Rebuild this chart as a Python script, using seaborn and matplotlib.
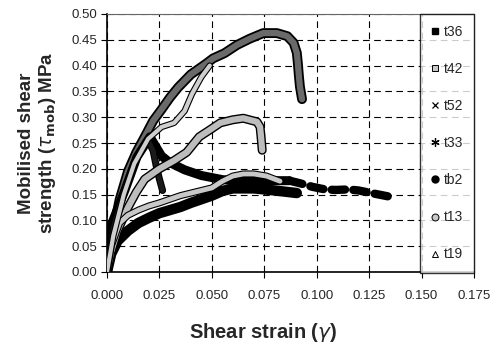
import matplotlib
matplotlib.use("Agg")
import matplotlib.pyplot as plt
import matplotlib.patheffects as pe
from matplotlib.lines import Line2D
import seaborn as sns

# ---------------- data ----------------
t13_x = [0.0, 0.003, 0.006, 0.010, 0.014, 0.018, 0.022, 0.026, 0.030, 0.034, 0.040, 0.047,
         0.0506, 0.056, 0.062, 0.068, 0.0745, 0.081, 0.086, 0.089, 0.0905, 0.091, 0.0915,
         0.092, 0.093]
t13_y = [0.0, 0.08, 0.14, 0.195, 0.232, 0.262, 0.293, 0.315, 0.338, 0.358, 0.383, 0.403,
         0.414, 0.424, 0.440, 0.452, 0.463, 0.463, 0.457, 0.444, 0.425, 0.405, 0.380,
         0.359, 0.335]

t33_x = [0.0, 0.003, 0.008, 0.013, 0.0196, 0.026, 0.032, 0.037, 0.0405, 0.045, 0.049]
t33_y = [0.0, 0.07, 0.15, 0.21, 0.258, 0.281, 0.289, 0.312, 0.345, 0.378, 0.400]

t42_x = [0.0, 0.002, 0.005, 0.010, 0.014, 0.018, 0.025, 0.032, 0.038, 0.044, 0.050,
         0.054, 0.060, 0.065, 0.0715, 0.073, 0.0735, 0.074]
t42_y = [0.0, 0.04, 0.08, 0.125, 0.155, 0.180, 0.200, 0.216, 0.232, 0.262, 0.278,
         0.289, 0.295, 0.298, 0.291, 0.281, 0.260, 0.236]

t52_x = [0.0, 0.002, 0.006, 0.010, 0.015, 0.020, 0.025, 0.030, 0.035, 0.040, 0.045,
         0.050, 0.055, 0.060, 0.065, 0.070, 0.076, 0.0825]
t52_y = [0.0, 0.05, 0.095, 0.110, 0.120, 0.128, 0.134, 0.141, 0.148, 0.153, 0.158,
         0.163, 0.176, 0.186, 0.190, 0.190, 0.186, 0.176]

t36_x = [0.0, 0.002, 0.005, 0.010, 0.015, 0.020, 0.025, 0.030, 0.035, 0.040, 0.045,
         0.050, 0.055, 0.060, 0.070, 0.080, 0.0905]
t36_y = [0.0, 0.035, 0.060, 0.080, 0.095, 0.105, 0.114, 0.120, 0.126, 0.134, 0.141,
         0.148, 0.157, 0.162, 0.162, 0.158, 0.153]

tb2_x = [0.0, 0.0024, 0.0086, 0.0143, 0.0205, 0.023, 0.026, 0.030, 0.037, 0.045,
         0.055, 0.065, 0.075, 0.087, 0.092, 0.098, 0.104, 0.109, 0.115, 0.120,
         0.126, 0.131, 0.136]
tb2_y = [0.0, 0.095, 0.159, 0.223, 0.262, 0.245, 0.225, 0.212, 0.198, 0.187,
         0.179, 0.176, 0.177, 0.177, 0.172, 0.165, 0.160, 0.159, 0.160, 0.158,
         0.153, 0.149, 0.145]
tb2_tail_start = 13  # index where the sparse (dashed-looking) part begins

t19_x = [0.0, 0.003, 0.008, 0.013, 0.0195, 0.022, 0.0235, 0.025, 0.0265]
t19_y = [0.0, 0.085, 0.155, 0.212, 0.256, 0.235, 0.205, 0.180, 0.158]

labels = ["t36", "t42", "t52", "t33", "tb2", "t13", "t19"]
x_ticks = [0.000, 0.025, 0.050, 0.075, 0.100, 0.125, 0.150, 0.175]
y_ticks = [0.00, 0.05, 0.10, 0.15, 0.20, 0.25, 0.30, 0.35, 0.40, 0.45, 0.50]

# ---------------- style ----------------
sns.set_theme(style="white")
plt.rcParams["font.family"] = ["Liberation Sans", "DejaVu Sans"]
plt.rcParams["mathtext.fontset"] = "dejavusans"

fig = plt.figure(figsize=(4.91, 3.47), dpi=100)
ax = fig.add_axes([107 / 491, 1 - 272 / 347, (474 - 107) / 491, (272 - 14) / 347])


def band(x, y, face, width, edge="black", ew=1.0, z=3, ls="-"):
    sns.lineplot(x=x, y=y, ax=ax, sort=False, estimator=None, color=face, lw=width,
                 linestyle=ls, solid_capstyle="round", dash_capstyle="round",
                 solid_joinstyle="round", zorder=z,
                 path_effects=[pe.Stroke(linewidth=width + 2 * ew, foreground=edge),
                               pe.Normal()])


band(t13_x, t13_y, "#6a6a6a", 4.5, ew=1.3, z=2.9)
band(t36_x, t36_y, "black", 5.5, z=3)
band(tb2_x[:tb2_tail_start + 1], tb2_y[:tb2_tail_start + 1], "black", 4.5, z=3.1)
sns.lineplot(x=tb2_x[tb2_tail_start:], y=tb2_y[tb2_tail_start:], ax=ax, sort=False,
             estimator=None, color="black", lw=6, linestyle=(0, (1.6, 1.0)),
             dash_capstyle="round", zorder=3.1)
band(t19_x, t19_y, "#1a1a1a", 3.5, ew=0.8, z=3.2)
band(t42_x, t42_y, "#bdbdbd", 4.5, ew=1.0, z=3.3)
band(t52_x, t52_y, "#c8c8c8", 3.5, ew=0.8, z=3.4)
band(t33_x, t33_y, "#cfcfcf", 3.0, ew=0.8, z=3.5)

# ---------------- axes ----------------
ax.set_xlim(0, 0.175)
ax.set_ylim(0, 0.50)
ax.set_xticks(x_ticks)
ax.set_yticks(y_ticks)
ax.set_xticklabels([f"{v:.3f}" for v in x_ticks], fontsize=9.5)
ax.set_yticklabels([f"{v:.2f}" for v in y_ticks], fontsize=9.5)
ax.grid(True, color="black", linestyle=(0, (6, 4)), linewidth=0.8)
ax.set_axisbelow(True)
ax.tick_params(axis="both", direction="out", length=4, width=0.8, color="black", pad=3,
               bottom=True, left=True)
ax.tick_params(axis="x", pad=9)
for side, sp in ax.spines.items():
    sp.set_visible(True)
    sp.set_color("black" if side in ("left", "bottom") else "#666666")
    sp.set_linewidth(1.2 if side in ("left", "bottom") else 0.8)

ax.set_xlabel(r"Shear strain ($\gamma$)", fontsize=14.5, fontweight="bold")
ax.xaxis.set_label_coords((263 - 107) / 367, -0.19)
ax.set_ylabel("Mobilised shear\n" + r"strength ($\tau_{\mathbf{mob}}$) MPa", fontsize=13.5,
              fontweight="bold", labelpad=10, linespacing=1.1)

# ---------------- legend ----------------
handles = [
    Line2D([], [], ls="none", marker="s", ms=5, mfc="black", mec="black"),
    Line2D([], [], ls="none", marker="s", ms=5, mfc="#c8c8c8", mec="black", mew=0.7),
    Line2D([], [], ls="none", marker="x", ms=5, mec="black", mew=0.9),
    Line2D([], [], ls="none", marker=(6, 2, 0), ms=6, mec="black", mew=0.9),
    Line2D([], [], ls="none", marker="o", ms=5, mfc="black", mec="black"),
    Line2D([], [], ls="none", marker="o", ms=5, mfc="#c8c8c8", mec="black", mew=0.7),
    Line2D([], [], ls="none", marker="^", ms=5, mfc="white", mec="black", mew=0.7),
]
leg = ax.legend(handles, labels, loc="upper right", bbox_to_anchor=(1.0, 1.0),
                borderaxespad=0, frameon=True, fancybox=False, edgecolor="black",
                fontsize=10, handlelength=0.6, handletextpad=0.3, labelspacing=1.66,
                borderpad=0.8)
leg.get_frame().set_linewidth(1.0)
leg.set_zorder(10)

fig.savefig("out.png", dpi=100)
